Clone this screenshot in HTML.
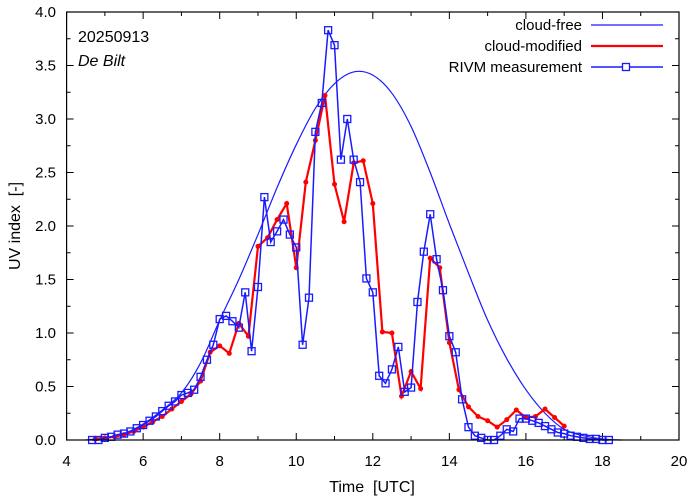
<!DOCTYPE html>
<html><head><meta charset="utf-8"><style>
body{margin:0;background:#fff}
svg{display:block;font-family:"Liberation Sans",sans-serif}
</style></head><body>
<svg id="chart" width="694" height="501" viewBox="0 0 694 501" xmlns="http://www.w3.org/2000/svg"></svg>
<script>
const clearT=[4.5,5,5.5,6,6.5,7,7.5,8,8.5,9,9.5,10,10.5,11,11.5,12,12.5,13,13.5,14,14.5,15,15.5,16,16.5,17,17.5,18,18.5];
const clearV=[0,0.02,0.06,0.15,0.28,0.44,0.72,1.12,1.5,1.92,2.36,2.76,3.1,3.33,3.44,3.41,3.24,2.93,2.5,2.02,1.56,1.12,0.76,0.47,0.25,0.1,0.04,0.01,0];
const redT=[4.75,5,5.25,5.5,5.75,6,6.25,6.5,6.75,7,7.25,7.5,7.75,8,8.25,8.5,8.75,9,9.25,9.5,9.75,10,10.25,10.5,10.75,11,11.25,11.5,11.75,12,12.25,12.5,12.75,13,13.25,13.5,13.75,14,14.25,14.5,14.75,15,15.25,15.5,15.75,16,16.25,16.5,16.75,17];
const redV=[0.01,0.02,0.03,0.05,0.08,0.12,0.17,0.22,0.29,0.36,0.43,0.55,0.82,0.88,0.81,1.09,0.97,1.81,1.89,2.06,2.21,1.61,2.41,2.8,3.22,2.39,2.04,2.59,2.61,2.21,1.01,1.0,0.41,0.64,0.48,1.7,1.61,0.91,0.47,0.31,0.22,0.18,0.12,0.19,0.28,0.21,0.22,0.29,0.21,0.13];
const measT=[4.667,4.833,5,5.167,5.333,5.5,5.667,5.833,6,6.167,6.333,6.5,6.667,6.833,7,7.167,7.333,7.5,7.667,7.833,8,8.167,8.333,8.5,8.667,8.833,9,9.167,9.333,9.5,9.667,9.833,10,10.167,10.333,10.5,10.667,10.833,11,11.167,11.333,11.5,11.667,11.833,12,12.167,12.333,12.5,12.667,12.833,13,13.167,13.333,13.5,13.667,13.833,14,14.167,14.333,14.5,14.667,14.833,15,15.167,15.333,15.5,15.667,15.833,16,16.167,16.333,16.5,16.667,16.833,17,17.167,17.333,17.5,17.667,17.833,18,18.167];
const measV=[0,0,0.02,0.03,0.05,0.06,0.08,0.11,0.14,0.18,0.22,0.27,0.32,0.36,0.42,0.44,0.47,0.59,0.75,0.89,1.13,1.16,1.11,1.05,1.38,0.83,1.43,2.27,1.85,1.95,2.06,1.92,1.8,0.89,1.33,2.88,3.15,3.83,3.69,2.62,3.0,2.62,2.41,1.51,1.38,0.6,0.53,0.66,0.87,0.45,0.49,1.29,1.76,2.11,1.69,1.4,0.97,0.82,0.38,0.12,0.04,0.02,0,0,0.04,0.1,0.08,0.2,0.2,0.18,0.16,0.13,0.1,0.07,0.06,0.04,0.03,0.02,0.01,0.01,0,0];
const xTicks=[4,6,8,10,12,14,16,18,20];
const yTicks=[0,0.5,1,1.5,2,2.5,3,3.5,4];

const L=66.6,R=679,T=12,B=440;
const X=t=>L+(t-4)/16*(R-L);
const Y=v=>B-v/4*(B-T);
const NS='http://www.w3.org/2000/svg';
const svg=document.getElementById('chart');
function mk(tag,at,parent){const e=document.createElementNS(NS,tag);for(const k in at)e.setAttribute(k,at[k]);(parent||svg).appendChild(e);return e;}

const tg=mk('g',{stroke:'#000','stroke-width':1});


for(let t=4;t<=20;t+=1){const len=(t%2===0)?7:4;const x=X(t);mk('line',{x1:x,y1:B,x2:x,y2:B-len},tg);mk('line',{x1:x,y1:T,x2:x,y2:T+len},tg);}
for(let i=0;i<=16;i++){const v=i*0.25;const len=(i%2===0)?7:4;const y=Y(v);mk('line',{x1:L,y1:y,x2:L+len,y2:y},tg);mk('line',{x1:R,y1:y,x2:R-len,y2:y},tg);}
xTicks.forEach(t=>{const e=mk('text',{x:X(t),y:466,'text-anchor':'middle','font-size':15});e.textContent=t;

});
yTicks.forEach(v=>{const e=mk('text',{x:56,y:Y(v)+5,'text-anchor':'end','font-size':15});e.textContent=v.toFixed(1);

});

function path(ts,vs){return ts.map((t,i)=>(i?'L':'M')+X(t).toFixed(1)+','+Y(vs[i]).toFixed(1)).join('');}
function smooth(ts,vs){const p=ts.map((t,i)=>[X(t),Y(vs[i])]);let d='M'+p[0][0]+','+p[0][1];
for(let i=0;i<p.length-1;i++){const p0=p[Math.max(0,i-1)],p1=p[i],p2=p[i+1],p3=p[Math.min(p.length-1,i+2)];
d+='C'+(p1[0]+(p2[0]-p0[0])/6)+','+(p1[1]+(p2[1]-p0[1])/6)+' '+(p2[0]-(p3[0]-p1[0])/6)+','+(p2[1]-(p3[1]-p1[1])/6)+' '+p2[0]+','+p2[1];}return d;}

const cf=mk('path',{d:smooth(clearT,clearV),fill:'none',stroke:'#1a1aff','stroke-width':1.2});


const rl=mk('path',{d:path(redT,redV),fill:'none',stroke:'#ff0000','stroke-width':2.2});


redT.forEach((t,i)=>{const c=mk('circle',{cx:X(t),cy:Y(redV[i]),r:2.5,fill:'#ff0000'});

});
const ml=mk('path',{d:path(measT,measV),fill:'none',stroke:'#1a1aff','stroke-width':1.5});


measT.forEach((t,i)=>{const s=mk('rect',{x:X(t)-3.5,y:Y(measV[i])-3.5,width:7,height:7,fill:'none',stroke:'#1a1aff','stroke-width':1.3});

});

const fr=mk('rect',{x:L,y:T,width:R-L,height:B-T,fill:'none',stroke:'#000','stroke-width':1.2});


</script>
<svg style="position:absolute;left:0;top:0" width="694" height="501" font-family="Liberation Sans, sans-serif">
<text x="78" y="42" font-size="16">20250913</text>
<text x="78" y="66" font-size="16" font-style="italic">De Bilt</text>
<text x="582" y="30" font-size="15" text-anchor="end">cloud-free</text>
<line x1="591" y1="25" x2="663" y2="25" stroke="#1a1aff" stroke-width="1.2"/>
<text x="582" y="51" font-size="15" text-anchor="end">cloud-modified</text>
<line x1="591" y1="46" x2="663" y2="46" stroke="#ff0000" stroke-width="2.2"/>
<text x="582" y="72" font-size="15" text-anchor="end">RIVM measurement</text>
<line x1="591" y1="67" x2="663" y2="67" stroke="#1a1aff" stroke-width="1.5"/>
<rect x="622.5" y="63.5" width="7" height="7" fill="#fff" stroke="#1a1aff" stroke-width="1.3"/>
<text x="372" y="492" font-size="16" text-anchor="middle">Time&#160; [UTC]</text>
<text transform="translate(20,226) rotate(-90)" font-size="16" text-anchor="middle">UV index&#160; [-]</text>
</svg>
</body></html>
